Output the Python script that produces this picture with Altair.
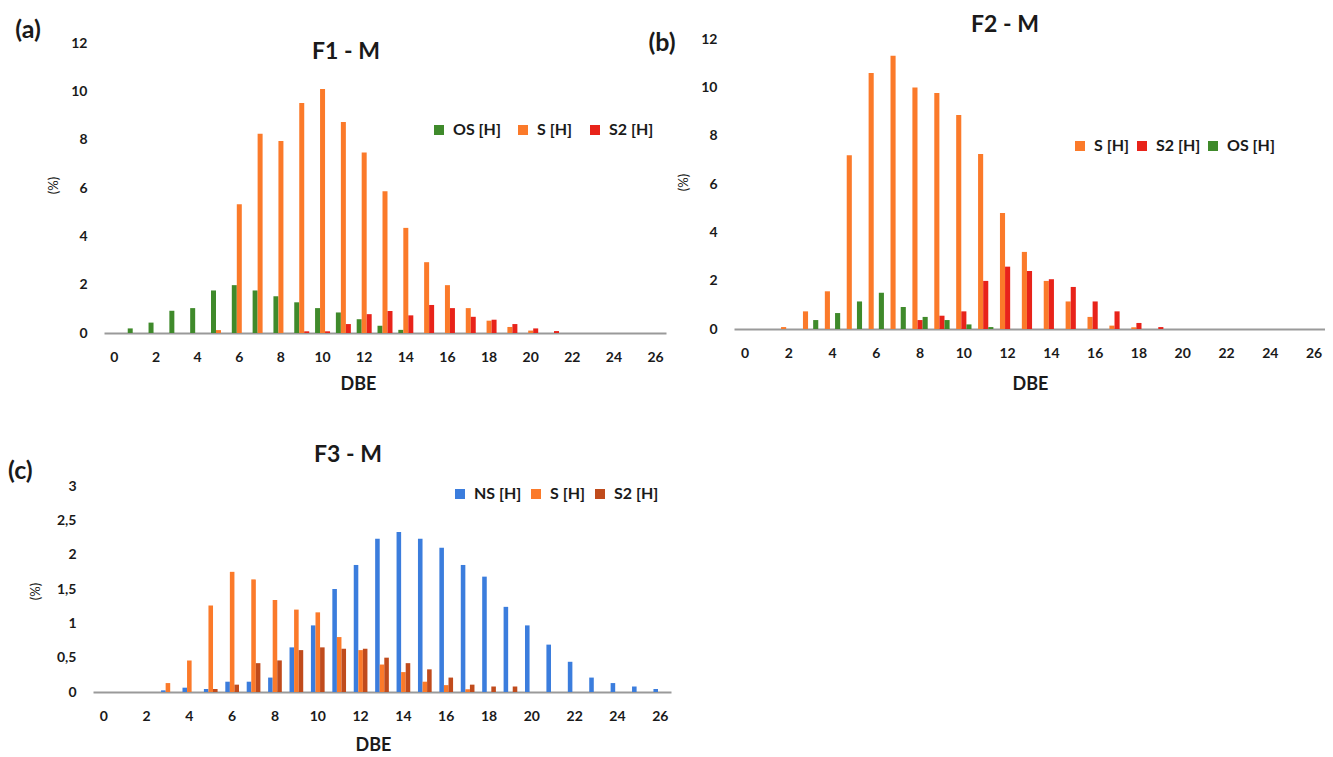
import altair as alt
import pandas as pd

FONT = "Lato"
TXT = "#1a1a1a"

dbe = list(range(27))

# Panel (a) F1 - M
a_names = ["OS [H]", "S [H]", "S2 [H]"]
a_colors = ["#3f8a2b", "#fb7a2a", "#e8231a"]
a_os = [0, 0.19, 0.43, 0.92, 1.03, 1.76, 1.98, 1.76, 1.52, 1.27, 1.03, 0.85, 0.57, 0.30,
        0.13, 0, 0, 0, 0, 0, 0, 0, 0, 0, 0, 0, 0]
a_s = [0, 0, 0, 0, 0, 0.12, 5.33, 8.25, 7.95, 9.52, 10.1, 8.73, 7.47, 5.87,
       4.35, 2.93, 1.98, 1.03, 0.51, 0.25, 0.1, 0, 0, 0, 0, 0, 0]
a_s2 = [0, 0, 0, 0, 0, 0, 0, 0, 0, 0.07, 0.07, 0.37, 0.78, 0.91,
        0.73, 1.16, 1.03, 0.67, 0.55, 0.37, 0.19, 0.08, 0, 0, 0, 0, 0]

# Panel (b) F2 - M
b_names = ["S [H]", "S2 [H]", "OS [H]"]
b_colors = ["#fb7a2a", "#e8231a", "#3f8a2b"]
b_s = [0, 0, 0.08, 0.73, 1.56, 7.19, 10.59, 11.31, 9.99, 9.77, 8.86, 7.24, 4.8, 3.19,
       1.99, 1.14, 0.5, 0.14, 0.07, 0, 0, 0, 0, 0, 0, 0, 0]
b_s2 = [0, 0, 0, 0, 0, 0, 0, 0, 0.37, 0.55, 0.73, 1.99, 2.58, 2.4,
        2.06, 1.74, 1.14, 0.73, 0.25, 0.08, 0, 0, 0, 0, 0, 0, 0]
b_os = [0, 0, 0, 0.37, 0.66, 1.14, 1.5, 0.91, 0.5, 0.37, 0.19, 0.08, 0, 0,
        0, 0, 0, 0, 0, 0, 0, 0, 0, 0, 0, 0, 0]

# Panel (c) F3 - M
c_names = ["NS [H]", "S [H]", "S2 [H]"]
c_colors = ["#3b7ddd", "#fb7a2a", "#c04b1c"]
c_ns = [0, 0, 0, 0.024, 0.063, 0.044, 0.15, 0.15, 0.21, 0.65, 0.97, 1.5, 1.85, 2.23,
        2.33, 2.23, 2.1, 1.85, 1.68, 1.24, 0.97, 0.69, 0.44, 0.21, 0.13, 0.08, 0.044]
c_s = [0, 0, 0, 0.13, 0.46, 1.26, 1.75, 1.64, 1.34, 1.2, 1.16, 0.8, 0.61, 0.4,
       0.29, 0.15, 0.1, 0.04, 0, 0, 0, 0, 0, 0, 0, 0, 0]
c_s2 = [0, 0, 0, 0, 0, 0.044, 0.107, 0.42, 0.46, 0.61, 0.65, 0.63, 0.63, 0.5,
        0.42, 0.33, 0.21, 0.107, 0.08, 0.08, 0, 0, 0, 0, 0, 0, 0]

x_ticks = list(range(0, 27, 2))
y_ticks_ab = list(range(0, 13, 2))
y_ticks_c = [0, 0.5, 1, 1.5, 2, 2.5, 3]


def text_layer(txt, x, y, size, weight="bold", align="center"):
    return alt.Chart(pd.DataFrame({"t": [txt]})).mark_text(
        font=FONT, fontSize=size, fontWeight=weight, color=TXT,
        align=align, baseline="middle"
    ).encode(x=alt.value(x), y=alt.value(y), text="t:N")


def panel(names, colors, series, w, h, xr, yr, ydom, yvals, pi, ylp,
          xtx, xty, ytx, yty, legx, legy, colpad, comma=False):
    rows = []
    for n, vals in zip(names, series):
        assert len(vals) == 27
        for d, v in zip(dbe, vals):
            rows.append({"DBE": d, "series": n, "pct": v})
    df = pd.DataFrame(rows)
    yaxis = dict(values=yvals, domain=False, ticks=False, grid=False,
                 labelFont=FONT, labelFontSize=14, labelFontWeight="bold",
                 labelColor=TXT, labelPadding=ylp, title="(%)",
                 titleFont=FONT, titleFontSize=13, titleFontWeight="normal",
                 titleColor=TXT, titleAngle=270, titleX=ytx, titleY=yty,
                 titleBaseline="middle", titleAlign="center")
    if comma:
        yaxis["labelExpr"] = "replace(toString(datum.value), '.', ',')"
    bars = alt.Chart(df).mark_bar().encode(
        x=alt.X("DBE:O", scale=alt.Scale(range=xr, paddingInner=pi, paddingOuter=pi / 2),
                axis=alt.Axis(values=x_ticks, labelAngle=0, ticks=False, grid=False,
                              domainColor="#9a9a9a", domainWidth=2,
                              labelFont=FONT, labelFontSize=14, labelFontWeight="bold",
                              labelColor=TXT, labelPadding=17, title="DBE",
                              titleFont=FONT, titleFontSize=18, titleFontWeight="bold",
                              titleColor=TXT, titleX=xtx, titleY=xty,
                              titleBaseline="middle", titleAlign="center")),
        xOffset=alt.XOffset("series:N", scale=alt.Scale(domain=names)),
        y=alt.Y("pct:Q", scale=alt.Scale(domain=ydom, range=yr, nice=False),
                axis=alt.Axis(**yaxis)),
        color=alt.Color("series:N", scale=alt.Scale(domain=names, range=colors),
                        legend=alt.Legend(orient="none", legendX=legx, legendY=legy,
                                          direction="horizontal", title=None,
                                          symbolType="square", symbolSize=100,
                                          symbolStrokeWidth=0, labelFont=FONT,
                                          labelFontSize=16, labelFontWeight="bold",
                                          labelColor=TXT, labelOffset=6,
                                          columnPadding=colpad, padding=0)),
    )
    return bars, w, h


a_bars, aw, ah = panel(a_names, a_colors, [a_os, a_s, a_s2], 578, 294, [11, 573], [294, 4],
                       [0, 12], y_ticks_ab, 0.28, 6, 265, 51, -40, 146, 338, 83, 14)
pa = alt.layer(a_bars, text_layer("F1 - M", 253, 13, 23),
               text_layer("(a)", -65, -9, 25)).properties(width=aw, height=ah)

b_bars, bw, bh = panel(b_names, b_colors, [b_s, b_s2, b_os], 591, 290, [0, 591], [290, 0],
                       [0, 12], y_ticks_ab, 0.3, 17, 296, 55, -51, 143, 338, 99, 4)
pb = alt.layer(b_bars, text_layer("F2 - M", 271, -14, 23),
               text_layer("(b)", -72, 4, 25)).properties(width=bw, height=bh)

c_bars, cw, ch = panel(c_names, c_colors, [c_ns, c_s, c_s2], 578, 206, [0, 578], [206, 0],
                       [0, 3], y_ticks_c, 0.36, 17, 280, 53, -58, 105, 359, 0, 6, comma=True)
pc = alt.layer(c_bars, text_layer("F3 - M", 255, -31, 23),
               text_layer("(c)", -85, -15, 25, align="left")).properties(width=cw, height=ch)

chart = alt.concat(pa, pb, pc, columns=2, spacing={"row": 153, "column": 63},
                   bounds="flush", align="each").resolve_scale(
    x="independent", y="independent", color="independent", xOffset="independent"
).configure_view(stroke=None).properties(
    padding={"left": 0, "top": 6, "right": 0, "bottom": 0}
)

chart.save("out.html", embed_options={"renderer": "svg", "actions": False})
